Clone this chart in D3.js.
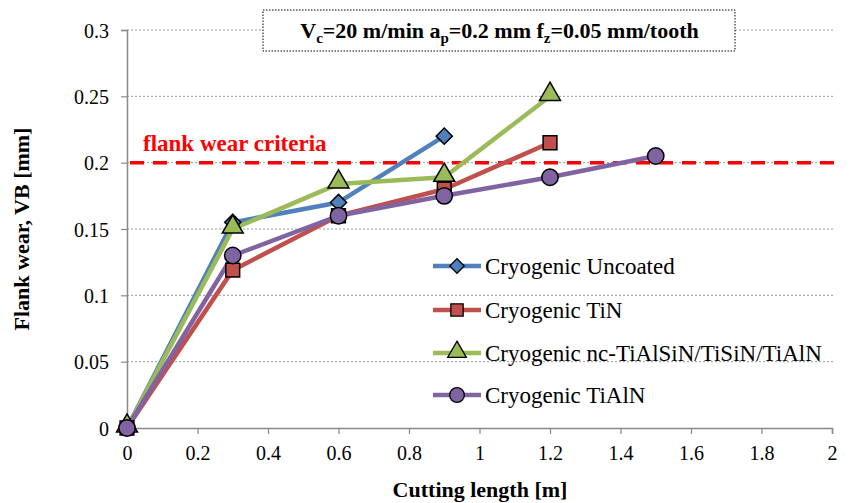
<!DOCTYPE html>
<html>
<head>
<meta charset="utf-8">
<script src="https://cdn.jsdelivr.net/npm/d3@7"></script>
<style>
  body { margin: 0; background: #fff; }
  svg text { font-family: "Liberation Serif", "Times New Roman", serif; }
</style>
</head>
<body>
<script>
// data
var lengths = [0, 0.3, 0.6, 0.9, 1.2, 1.5];
var seriesNames = ["Cryogenic Uncoated", "Cryogenic TiN", "Cryogenic nc-TiAlSiN/TiSiN/TiAlN", "Cryogenic TiAlN"];
var uncoated = [0, 0.155, 0.170, 0.220];
var tin = [0, 0.119, 0.160, 0.180, 0.215];
var nc = [0, 0.150, 0.184, 0.189, 0.250];
var tialn = [0, 0.130, 0.160, 0.175, 0.189, 0.205];
var criteria = 0.2;
var xTicks = [0, 0.2, 0.4, 0.6, 0.8, 1, 1.2, 1.4, 1.6, 1.8, 2];
var yTicks = [0, 0.05, 0.1, 0.15, 0.2, 0.25, 0.3];

var colors = ["#4F81BD", "#C0504D", "#9BBB59", "#8064A2"];
// wide diamond like Excel's
var diamond = { draw: function(ctx, size) {
  var r = Math.sqrt(size) / 2;
  ctx.moveTo(0, -r); ctx.lineTo(r, 0); ctx.lineTo(0, r); ctx.lineTo(-r, 0); ctx.closePath();
}};
var shapes = [diamond, d3.symbolSquare, d3.symbolTriangle, d3.symbolCircle];
var sizes = [260, 190, 190, 210];
var allSeries = [uncoated, tin, nc, tialn];

var w = 856, h = 503;
var svg = d3.select("body").append("svg")
    .attr("width", w).attr("height", h);

var x = d3.scaleLinear().domain([0, 2]).range([127, 832]);
var y = d3.scaleLinear().domain([0, 0.3]).range([428, 30]);

// gridlines
svg.selectAll(".grid").data(yTicks.filter(function(d){ return d > 0; }))
  .enter().append("line")
  .attr("x1", x(0)).attr("x2", x(2) + 3)
  .attr("y1", function(d){ return y(d); }).attr("y2", function(d){ return y(d); })
  .attr("stroke", "#999").attr("stroke-width", 1)
  .attr("stroke-dasharray", "2,2");

// axes
var yAxis = svg.append("g").attr("transform", "translate(" + x(0) + ",0)")
  .call(d3.axisLeft(y).tickValues(yTicks).tickSize(6).tickPadding(12)
    .tickFormat(function(d){ return d3.format("~g")(d); }));
var xAxis = svg.append("g").attr("transform", "translate(0," + y(0) + ")")
  .call(d3.axisBottom(x).tickValues(xTicks).tickSize(6).tickPadding(8)
    .tickFormat(function(d){ return d3.format("~g")(d); }));
[xAxis, yAxis].forEach(function(a){
  a.attr("font-family", "Liberation Serif").attr("font-size", 20);
  a.select(".domain").attr("stroke", "#888").attr("stroke-width", 1.5);
  a.selectAll(".tick line").attr("stroke", "#888").attr("stroke-width", 1.2);
  a.selectAll("text").attr("fill", "#000");
});
xAxis.selectAll(".tick text").attr("dy", "0.9em");
yAxis.selectAll(".tick text").attr("dy", "0.35em");

// criteria line
svg.append("line")
  .attr("x1", x(0) + 3).attr("x2", x(2) + 2)
  .attr("y1", y(criteria)).attr("y2", y(criteria))
  .attr("stroke", "#FF0000").attr("stroke-width", 3.5)
  .attr("stroke-dasharray", "14,9");
svg.append("text")
  .attr("x", 143).attr("y", 151)
  .attr("fill", "#FF0000").style("font-size", "23px").style("font-weight", "bold")
  .text("flank wear criteria");

// series
var line = d3.line()
  .x(function(d, i){ return x(lengths[i]); })
  .y(function(d){ return y(d); });

allSeries.forEach(function(vals, k){
  svg.append("path").datum(vals)
    .attr("d", line)
    .attr("fill", "none")
    .attr("stroke", colors[k]).attr("stroke-width", 4.5)
    .attr("stroke-linejoin", "round");
});
allSeries.forEach(function(vals, k){
  svg.selectAll(".m" + k).data(vals).enter().append("path")
    .attr("transform", function(d, i){
      var dy = k === 2 ? -2 : 0;
      return "translate(" + x(lengths[i]) + "," + (y(d) + dy) + ")";
    })
    .attr("d", d3.symbol().type(shapes[k]).size(sizes[k]))
    .attr("fill", colors[k]).attr("stroke", "#000").attr("stroke-width", 1.5);
});

// legend
var legY = [266, 310, 353, 395];
seriesNames.forEach(function(name, k){
  var g = svg.append("g").attr("transform", "translate(433," + legY[k] + ")");
  g.append("line").attr("x1", 0).attr("x2", 48).attr("y1", 0).attr("y2", 0)
    .attr("stroke", colors[k]).attr("stroke-width", 4.5);
  g.append("path").attr("transform", "translate(24," + (k === 2 ? -1 : 0) + ")")
    .attr("d", d3.symbol().type(shapes[k]).size(sizes[k] * 0.8))
    .attr("fill", colors[k]).attr("stroke", "#000").attr("stroke-width", 1.3);
  g.append("text").attr("x", 52).attr("y", 8)
    .style("font-size", "23px").attr("fill", "#000").text(name);
});

// title box
svg.append("rect")
  .attr("x", 263).attr("y", 10).attr("width", 472).attr("height", 41)
  .attr("fill", "#fff").attr("stroke", "#000").attr("stroke-width", 1)
  .attr("stroke-dasharray", "1.5,1.5");
var t = svg.append("text").attr("x", 499.5).attr("y", 38)
  .attr("text-anchor", "middle")
  .style("font-size", "22px").style("font-weight", "bold");
t.append("tspan").text("V");
t.append("tspan").attr("dy", 5).style("font-size", "15px").text("c");
t.append("tspan").attr("dy", -5).text("=20 m/min a");
t.append("tspan").attr("dy", 5).style("font-size", "15px").text("p");
t.append("tspan").attr("dy", -5).text("=0.2 mm f");
t.append("tspan").attr("dy", 5).style("font-size", "15px").text("z");
t.append("tspan").attr("dy", -5).text("=0.05 mm/tooth");

// axis titles
svg.append("text")
  .attr("x", 480).attr("y", 497)
  .attr("text-anchor", "middle")
  .style("font-size", "22px").style("font-weight", "bold")
  .text("Cutting length [m]");
svg.append("text")
  .attr("transform", "translate(29,229) rotate(-90)")
  .attr("text-anchor", "middle")
  .style("font-size", "22px").style("font-weight", "bold")
  .text("Flank wear, VB [mm]");
</script>
</body>
</html>
